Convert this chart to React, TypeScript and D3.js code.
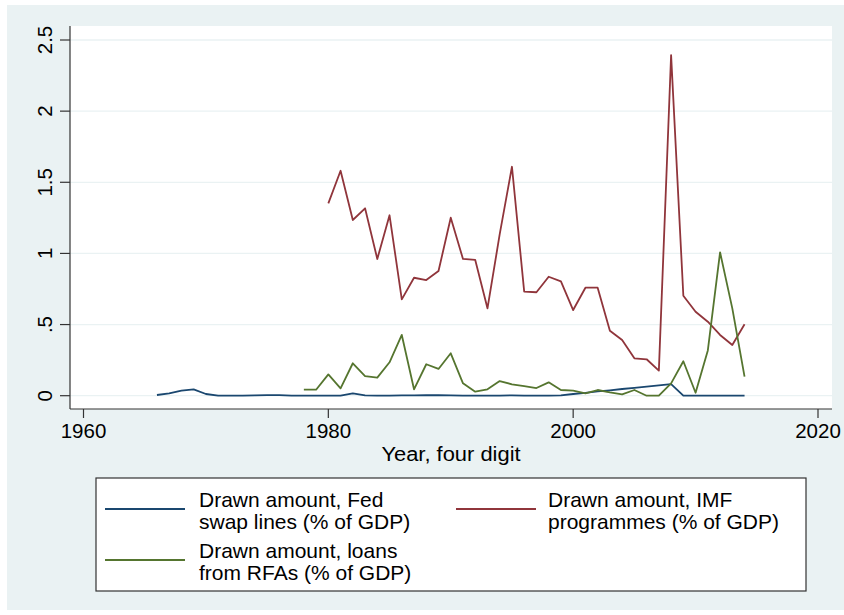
import React from "react";
import * as d3 from "d3";

// Drawn amounts, % of GDP, by year
const fedYears = [
  1966, 1967, 1968, 1969, 1970, 1971, 1972, 1973, 1974, 1975, 1976, 1977, 1978, 1979, 1980,
  1981, 1982, 1983, 1984, 1985, 1986, 1987, 1988, 1989, 1990, 1991, 1992, 1993, 1994, 1995,
  1996, 1997, 1998, 1999, 2000, 2001, 2002, 2003, 2004, 2005, 2006, 2007, 2008, 2009, 2010,
  2011, 2012, 2013, 2014,
];
const fedSwap = [
  0.005, 0.017, 0.035, 0.045, 0.012, 0.001, 0.001, 0.001, 0.002, 0.004, 0.004, 0.001, 0.001, 0.001, 0.001,
  0.001, 0.017, 0.002, 0.001, 0.001, 0.002, 0.002, 0.003, 0.003, 0.002, 0.001, 0.001, 0.001, 0.001, 0.002,
  0.001, 0.001, 0.001, 0.002, 0.012, 0.02, 0.03, 0.038, 0.047, 0.055, 0.064, 0.073, 0.082, 0.0, 0.0,
  0.001, 0.001, 0.0, 0.0,
];

const imfYears = [
  1980, 1981, 1982, 1983, 1984, 1985, 1986, 1987, 1988, 1989, 1990, 1991, 1992, 1993, 1994,
  1995, 1996, 1997, 1998, 1999, 2000, 2001, 2002, 2003, 2004, 2005, 2006, 2007, 2008, 2009,
  2010, 2011, 2012, 2013, 2014,
];
const imfProgrammes = [
  1.352, 1.581, 1.235, 1.317, 0.961, 1.268, 0.677, 0.829, 0.813, 0.876, 1.251, 0.961, 0.954, 0.614, 1.135,
  1.609, 0.731, 0.727, 0.836, 0.804, 0.602, 0.759, 0.759, 0.457, 0.391, 0.263, 0.256, 0.176, 2.394, 0.703,
  0.59, 0.52, 0.427, 0.356, 0.502,
];

const rfaYears = [
  1978, 1979, 1980, 1981, 1982, 1983, 1984, 1985, 1986, 1987, 1988, 1989, 1990, 1991, 1992,
  1993, 1994, 1995, 1996, 1997, 1998, 1999, 2000, 2001, 2002, 2003, 2004, 2005, 2006, 2007,
  2008, 2009, 2010, 2011, 2012, 2013, 2014,
];
const rfaLoans = [
  0.042, 0.042, 0.15, 0.052, 0.228, 0.138, 0.127, 0.235, 0.427, 0.045, 0.221, 0.188, 0.298, 0.087, 0.028,
  0.045, 0.103, 0.08, 0.068, 0.054, 0.094, 0.04, 0.035, 0.017, 0.04, 0.024, 0.01, 0.04, 0.0, 0.0,
  0.087, 0.242, 0.021, 0.318, 1.008, 0.614, 0.134,
];

const xTicks = [1960, 1980, 2000, 2020];
const yTicks = [0, 0.5, 1, 1.5, 2, 2.5];
const yTickLabels = ["0", ".5", "1", "1.5", "2", "2.5"];

const legendLabels = [
  ["Drawn amount, Fed", "swap lines (% of GDP)"],
  ["Drawn amount, IMF", "programmes (% of GDP)"],
  ["Drawn amount, loans", "from RFAs (% of GDP)"],
];

const NAVY = "#1a476f";
const MAROON = "#90353b";
const GREEN = "#55752f";
const BG = "#eaf2f3";
const FONT = "'Liberation Sans', Arial, Helvetica, sans-serif";

export default function App() {
  const width = 844;
  const height = 615;
  const plot = { left: 70, right: 832, top: 26, bottom: 409 };

  const x = d3.scaleLinear().domain([1960, 2020]).range([83.5, 818]);
  const y = d3.scaleLinear().domain([0, 2.5]).range([395.7, 40]);

  const mk = (years: number[], vals: number[]) =>
    d3
      .line<number>()
      .x((_, i) => x(years[i]))
      .y((v) => y(v))(vals) || "";

  const series = [
    { d: mk(fedYears, fedSwap), color: NAVY },
    { d: mk(imfYears, imfProgrammes), color: MAROON },
    { d: mk(rfaYears, rfaLoans), color: GREEN },
  ];

  const legendItems = [
    { color: NAVY, lx: 105, tx: 199, ly: 509, ty: 507 },
    { color: MAROON, lx: 456, tx: 548, ly: 509, ty: 507 },
    { color: GREEN, lx: 105, tx: 199, ly: 560, ty: 558 },
  ];

  return (
    <svg
      width={width}
      height={height}
      style={{ position: "absolute", left: 0, top: 0, background: "#fff" }}
      fontFamily={FONT}
    >
      <rect x={7} y={5} width={837} height={605} fill={BG} />
      <rect
        x={plot.left}
        y={plot.top}
        width={plot.right - plot.left}
        height={plot.bottom - plot.top}
        fill="#fff"
      />
      {/* horizontal grid */}
      {yTicks.map((t) => (
        <line
          key={"g" + t}
          x1={plot.left}
          x2={plot.right}
          y1={y(t)}
          y2={y(t)}
          stroke={BG}
          strokeWidth={1.3}
        />
      ))}
      {/* series */}
      {series.map((s, i) => (
        <path
          key={i}
          d={s.d}
          fill="none"
          stroke={s.color}
          strokeWidth={1.8}
          strokeLinejoin="round"
        />
      ))}
      {/* y axis */}
      <line x1={plot.left} x2={plot.left} y1={plot.top} y2={plot.bottom} stroke="#333" strokeWidth={1.2} />
      {yTicks.map((t, i) => (
        <g key={"y" + t}>
          <line x1={60} x2={plot.left} y1={y(t)} y2={y(t)} stroke="#333" strokeWidth={1.2} />
          <text
            transform={`translate(52,${y(t)}) rotate(-90)`}
            textAnchor="middle"
            fontSize={20.5}
            fill="#000"
          >
            {yTickLabels[i]}
          </text>
        </g>
      ))}
      {/* x axis */}
      <line x1={plot.left} x2={plot.right} y1={plot.bottom} y2={plot.bottom} stroke="#333" strokeWidth={1.2} />
      {xTicks.map((t) => (
        <g key={"x" + t}>
          <line x1={x(t)} x2={x(t)} y1={plot.bottom} y2={418} stroke="#333" strokeWidth={1.2} />
          <text x={x(t)} y={438} textAnchor="middle" fontSize={20.5} fill="#000">
            {t}
          </text>
        </g>
      ))}
      <text
        transform="translate(451,461) scale(1.095,1)"
        textAnchor="middle"
        fontSize={20}
        fill="#000"
      >
        Year, four digit
      </text>
      {/* legend */}
      <rect x={96} y={478} width={710} height={113} fill="#fff" stroke="#333" strokeWidth={1.2} />
      {legendItems.map((it, i) => (
        <g key={"l" + i}>
          <line x1={it.lx} x2={it.lx + 80} y1={it.ly} y2={it.ly} stroke={it.color} strokeWidth={1.8} />
          <text transform={`translate(${it.tx},${it.ty}) scale(1.05,1)`} fontSize={20} fill="#000">
            {legendLabels[i][0]}
          </text>
          <text transform={`translate(${it.tx},${it.ty + 21.5}) scale(1.05,1)`} fontSize={20} fill="#000">
            {legendLabels[i][1]}
          </text>
        </g>
      ))}
    </svg>
  );
}
